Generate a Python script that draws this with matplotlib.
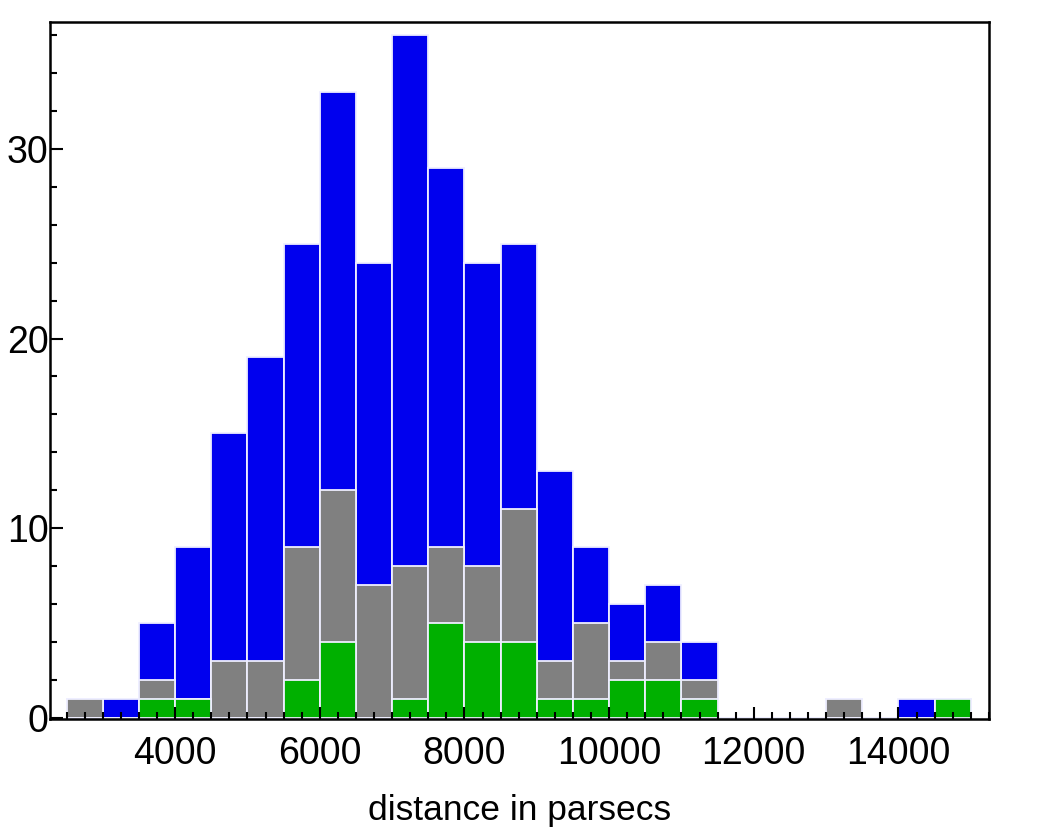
import numpy as np
import matplotlib.pyplot as plt
from matplotlib.ticker import MultipleLocator

plt.rcParams['font.family'] = ['Liberation Sans', 'DejaVu Sans']

# histogram bins (left edges, parsecs), width 500
bin_left = np.arange(2500, 15000, 500)
total = [1, 1, 5, 9, 15, 19, 25, 33, 24, 36, 29, 24, 25, 13, 9, 6, 7, 4, 0, 0, 0, 1, 0, 1, 1]
grey = [1, 0, 2, 1, 3, 3, 9, 12, 7, 8, 9, 8, 11, 3, 5, 3, 4, 2, 0, 0, 0, 1, 0, 0, 1]
green = [0, 0, 1, 1, 0, 0, 2, 4, 0, 1, 5, 4, 4, 1, 1, 2, 2, 1, 0, 0, 0, 0, 0, 0, 1]

fig = plt.figure(figsize=(10.42, 8.34), dpi=100)
ax = fig.add_axes([0.048, 0.138, 0.901, 0.836])

edge = '#eeeeff'
for vals, col in [(total, '#0000ee'), (grey, '#808080'), (green, '#00b000')]:
    ax.bar(bin_left, vals, width=500, align='edge', color=col,
           edgecolor=edge, linewidth=1.3)

ax.set_xlim(2270, 15250)
ax.set_ylim(-0.05, 36.7)

ax.xaxis.set_major_locator(MultipleLocator(2000))
ax.xaxis.set_minor_locator(MultipleLocator(250))
ax.yaxis.set_major_locator(MultipleLocator(10))
ax.yaxis.set_minor_locator(MultipleLocator(2))
ax.set_xticks([4000, 6000, 8000, 10000, 12000, 14000])

ax.tick_params(which='both', direction='in', width=1.5, labelsize=27, color='black')
ax.tick_params(which='major', length=9)
ax.tick_params(which='minor', length=5)
ax.tick_params(axis='x', pad=12)
ax.tick_params(axis='y', pad=1)

for s in ax.spines.values():
    s.set_linewidth(1.8)

ax.set_xlabel('distance in parsecs', fontsize=25.5, labelpad=16)

fig.savefig('out.png', dpi=100)
